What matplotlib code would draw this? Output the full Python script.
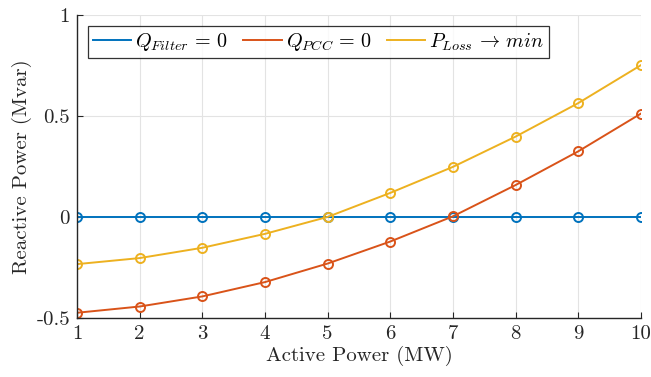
import matplotlib
matplotlib.use("Agg")
import matplotlib.pyplot as plt

# datos
potencia_activa = [1, 2, 3, 4, 5, 6, 7, 8, 9, 10]
q_filtro = [0, 0, 0, 0, 0, 0, 0, 0, 0, 0]
q_pcc = [-0.475, -0.444, -0.394, -0.323, -0.231, -0.122, 0.003, 0.158, 0.325, 0.512]
p_perdidas = [-0.234, -0.204, -0.153, -0.084, 0.0, 0.119, 0.248, 0.398, 0.564, 0.752]

etiquetas_y = ["-0.5", "0", "0.5", "1"]
valores_y = [-0.5, 0, 0.5, 1]

plt.rcParams["font.family"] = "serif"
plt.rcParams["font.serif"] = ["cmr10", "DejaVu Serif"]
plt.rcParams["mathtext.fontset"] = "cm"

fig = plt.figure(figsize=(6.51, 3.77), dpi=100)
ax = fig.add_axes([0.1183, 0.157, 0.8663, 0.803])

ax.plot(potencia_activa, q_filtro, "-o", color="#0072BD", lw=1.4, ms=6.5,
        mfc="none", mew=1.4, label=r"$Q_{Filter}\,=\,0$")
ax.plot(potencia_activa, q_pcc, "-o", color="#D95319", lw=1.4, ms=6.5,
        mfc="none", mew=1.4, label=r"$Q_{PCC}\,=\,0$")
ax.plot(potencia_activa, p_perdidas, "-o", color="#EDB120", lw=1.4, ms=6.5,
        mfc="none", mew=1.4, label=r"$P_{Loss}\,\rightarrow\,min$")

ax.set_xlim(1, 10)
ax.set_ylim(-0.5, 1)
ax.set_xticks(potencia_activa)
ax.set_xticklabels([str(v) for v in potencia_activa])
ax.set_yticks(valores_y)
ax.set_yticklabels(etiquetas_y)
ax.grid(True, color="#e3e3e3", lw=0.8)
ax.set_axisbelow(True)

ax.spines["top"].set_visible(False)
ax.spines["right"].set_visible(False)
ax.spines["left"].set_color("#262626")
ax.spines["bottom"].set_color("#262626")
ax.spines["left"].set_linewidth(1.0)
ax.spines["bottom"].set_linewidth(1.0)
ax.tick_params(direction="in", length=4, color="#262626", labelsize=15,
               labelcolor="#262626", pad=5)

ax.set_xlabel("Active Power (MW)", fontsize=15, color="#262626", labelpad=2)
ax.set_ylabel("Reactive Power (Mvar)", fontsize=15, color="#262626", labelpad=3)

leg = ax.legend(loc="upper left", ncol=3, fontsize=14.5, frameon=True,
                fancybox=False, edgecolor="black", handlelength=1.9,
                handletextpad=0.2, columnspacing=0.75, borderpad=0.25,
                borderaxespad=0, bbox_to_anchor=(0.019, 0.963))
leg.get_frame().set_linewidth(0.9)
for h in leg.legend_handles:
    h.set_marker("")

fig.savefig("out.png", dpi=100)
